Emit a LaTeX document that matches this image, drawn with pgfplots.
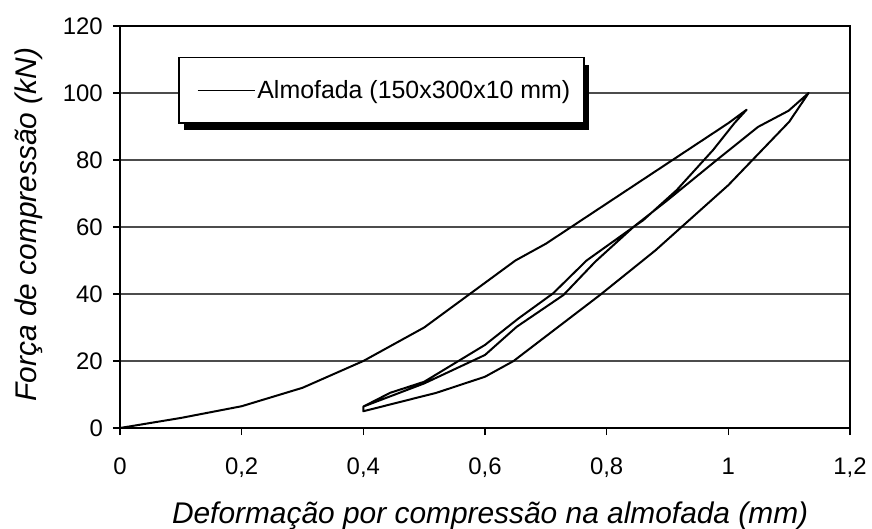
\documentclass[border=0pt]{standalone}
\usepackage{fontspec}
\setmainfont{Liberation Sans}
\usepackage{pgfplots}
\pgfplotsset{compat=1.18}
\usetikzlibrary{shadows}

\begin{document}
\begin{tikzpicture}
\useasboundingbox (-120bp,-101bp) rectangle (752bp,428bp);
\begin{axis}[
  at={(0,0)}, anchor=south west,
  scale only axis, width=730bp, height=402bp,
  xmin=0, xmax=1.2, ymin=0, ymax=120,
  xtick={0,0.2,0.4,0.6,0.8,1,1.2},
  xticklabels={0,{0,2},{0,4},{0,6},{0,8},1,{1,2}},
  ytick={0,20,40,60,80,100,120},
  xtick pos=bottom, ytick pos=left,
  /pgf/number format/assume math mode=true,
  tick align=outside,
  major tick length=7bp,
  tick style={line width=1.5bp, black},
  ymajorgrids,
  grid style={line width=1.2bp, black!70},
  axis line style={line width=2bp},
  ticklabel style={font=\fontsize{24}{28}\selectfont},
  xticklabel style={anchor=base, inner sep=0pt, yshift=-39bp},
  yticklabel style={anchor=east, inner sep=0pt, xshift=-10bp},
  xlabel={\itshape Deformação por compressão na almofada (mm)},
  ylabel={\itshape Força de compressão (kN)},
  label style={font=\fontsize{30}{36}\selectfont, inner sep=0pt},
  xlabel style={at={(axis description cs:0.507,-0.2388)}, anchor=base},
  ylabel style={at={(axis description cs:-0.1144,0.506)}, anchor=base, rotate=0},
  legend style={at={(axis description cs:0.0795,0.923)}, anchor=north west,
    draw=black, line width=1.5bp, fill=white,
    inner xsep=12bp, inner ysep=21bp,
    font=\fontsize{25}{29}\selectfont,
    drop shadow={shadow xshift=5bp, shadow yshift=-7bp, opacity=1, fill=black},
    /tikz/every even column/.append style={column sep=9bp}},
  legend image code/.code={%
    \pgfsetlinewidth{1.6bp}%
    \pgfsetstrokecolor{black}%
    \pgfpathmoveto{\pgfpointorigin}%
    \pgfpathmoveto{\pgfpoint{6bp}{0bp}}%
    \pgfpathlineto{\pgfpoint{63bp}{0bp}}%
    \pgfusepath{stroke}},
]
% loading / unloading cycles of the bearing pad
\addplot[black, line width=2bp, line join=round] coordinates {
  (0,0) (0.1,3) (0.2,6.5) (0.3,12) (0.4,20) (0.5,30) (0.65,50) (0.7,55)
  (0.8,67) (0.9,79) (1.0,91) (1.03,95)
  (1.01,91) (0.975,83) (0.915,71) (0.86,62) (0.844,60) (0.781,49.6)
  (0.729,39.7) (0.652,30.2) (0.6,21.8) (0.5,13.3) (0.4,6.4)
  (0.4,5) (0.52,10.5) (0.6,15.3) (0.647,20) (0.696,26.8) (0.789,39.7)
  (0.88,53) (1.0,72.5) (1.1,91.4) (1.132,100)
  (1.099,94.7) (1.049,89.9) (0.981,80) (0.9,68) (0.841,59.6) (0.767,50)
  (0.712,40.2) (0.655,32.7) (0.6,24.8) (0.5,13.8) (0.444,10.5) (0.4,6.4)
};
\addlegendentry{Almofada (150x300x10 mm)}
\end{axis}
\end{tikzpicture}
\end{document}
